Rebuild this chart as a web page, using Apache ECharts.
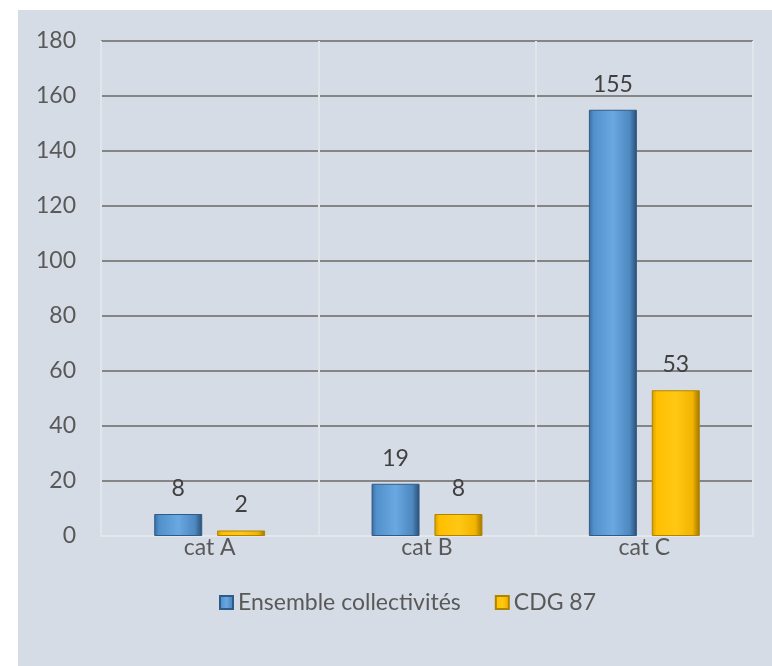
<!DOCTYPE html>
<html><head><meta charset="utf-8">
<script src="https://cdn.jsdelivr.net/npm/echarts@6/dist/echarts.min.js"></script>
<style>html,body{margin:0;padding:0;background:#fff;}#c{width:772px;height:666px;}</style>
</head><body><div id="c"></div>
<script>
var categories = ['cat A', 'cat B', 'cat C'];
var seriesNames = ['Ensemble collectivités', 'CDG 87'];
var ensembleValues = [8, 19, 155];
var cdgValues = [2, 8, 53];
var yTicks = [0, 20, 40, 60, 80, 100, 120, 140, 160, 180];

var FONT = 'Lato, "Liberation Sans", sans-serif';
var FS = 23;
function grad(stops) {
  return { type: 'linear', x: 0, y: 0, x2: 1, y2: 0,
    colorStops: stops.map(function (s) { return { offset: s[0], color: s[1] }; }) };
}
var blueFill = grad([[0,'#3a6a9e'],[0.1,'#5290cb'],[0.5,'#6aa8e2'],[0.85,'#4d88bf'],[1,'#2a4d74']]);
var yellowFill = grad([[0,'#d29c00'],[0.1,'#ffbf00'],[0.5,'#ffc814'],[0.85,'#f2b400'],[1,'#9c7400']]);

var chart = echarts.init(document.getElementById('c'), null, { renderer: 'canvas' });
var splitColors = yTicks.map(function (v, i) { return i === 0 ? 'rgba(0,0,0,0)' : '#858585'; });
chart.setOption({
  animation: false,
  backgroundColor: '#ffffff',
  graphic: [{ type: 'rect', z: -10, silent: true, shape: { x: 18, y: 10, width: 760, height: 660 }, style: { fill: '#d6dce5' } }],
  grid: { left: 101, right: 19, top: 41, bottom: 130, containLabel: false },
  legend: {
    data: seriesNames, top: 586, left: 214, itemWidth: 13, itemHeight: 13, itemGap: 34,
    icon: 'rect',
    textStyle: { fontFamily: FONT, fontSize: FS, color: '#595959' }
  },
  xAxis: {
    type: 'category', data: categories,
    axisLine: { show: true, lineStyle: { color: '#e4e7ec', width: 2 } },
    axisTick: { show: false },
    splitLine: { show: true, lineStyle: { color: '#e2e5ea', width: 2 } },
    axisLabel: { fontFamily: FONT, fontSize: FS, color: '#595959', margin: 0 }
  },
  yAxis: {
    type: 'value', min: 0, max: 180, interval: 20,
    axisLine: { show: false }, axisTick: { show: false },
    splitLine: { show: true, lineStyle: { color: splitColors, width: 2 } },
    axisLabel: { fontFamily: FONT, fontSize: FS, color: '#595959', margin: 25 }
  },
  series: [
    { name: seriesNames[0], type: 'bar', data: ensembleValues, barWidth: 48, barGap: '31%',
      itemStyle: { color: blueFill, borderColor: '#2f5b88', borderWidth: 1 },
      label: { show: true, position: 'top', distance: 14, fontFamily: FONT, fontSize: FS, color: '#404040' } },
    { name: seriesNames[1], type: 'bar', data: cdgValues, barWidth: 48,
      itemStyle: { color: yellowFill, borderColor: '#b08400', borderWidth: 1 },
      label: { show: true, position: 'top', distance: 14, fontFamily: FONT, fontSize: FS, color: '#404040' } }
  ]
});
</script></body></html>
